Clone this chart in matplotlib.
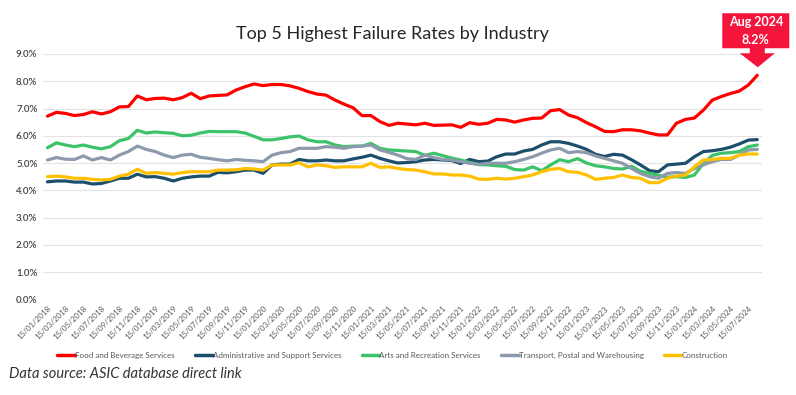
import numpy as np
import matplotlib
matplotlib.use("Agg")
import matplotlib.pyplot as plt
from matplotlib.patches import Polygon

plt.rcParams['font.family'] = ['Lato', 'DejaVu Sans']

# monthly dates Jan 2018 .. Aug 2024
months = [f"15/{m:02d}/{y}" for y in range(2018, 2025) for m in range(1, 13)][:80]

food = [6.72, 6.86, 6.82, 6.74, 6.78, 6.88, 6.80, 6.88, 7.06, 7.07,
        7.46, 7.32, 7.37, 7.38, 7.32, 7.40, 7.56, 7.36, 7.46, 7.48,
        7.50, 7.68, 7.80, 7.90, 7.84, 7.88, 7.88, 7.83, 7.74, 7.62,
        7.53, 7.49, 7.31, 7.16, 7.03, 6.74, 6.74, 6.52, 6.38, 6.46,
        6.43, 6.40, 6.46, 6.38, 6.39, 6.40, 6.31, 6.48, 6.42, 6.46,
        6.60, 6.58, 6.50, 6.58, 6.64, 6.65, 6.92, 6.96, 6.76, 6.66,
        6.48, 6.33, 6.16, 6.15, 6.22, 6.22, 6.18, 6.10, 6.03, 6.03,
        6.46, 6.60, 6.65, 6.94, 7.31, 7.44, 7.55, 7.64, 7.86, 8.22]

admin = [4.31, 4.34, 4.34, 4.30, 4.30, 4.23, 4.25, 4.34, 4.44, 4.44,
         4.59, 4.49, 4.50, 4.44, 4.34, 4.44, 4.49, 4.52, 4.52, 4.66,
         4.64, 4.68, 4.74, 4.74, 4.62, 4.93, 4.96, 4.96, 5.13, 5.08,
         5.08, 5.11, 5.08, 5.08, 5.15, 5.21, 5.29, 5.17, 5.08, 5.00,
         5.02, 5.05, 5.11, 5.13, 5.11, 5.09, 4.98, 5.13, 5.05, 5.07,
         5.23, 5.33, 5.33, 5.44, 5.50, 5.66, 5.78, 5.78, 5.72, 5.62,
         5.50, 5.32, 5.24, 5.32, 5.29, 5.12, 4.93, 4.72, 4.68, 4.93,
         4.96, 4.99, 5.23, 5.42, 5.45, 5.50, 5.58, 5.70, 5.84, 5.86]

arts = [5.56, 5.74, 5.66, 5.60, 5.66, 5.58, 5.52, 5.60, 5.82, 5.90,
        6.20, 6.10, 6.14, 6.11, 6.09, 6.00, 6.02, 6.10, 6.16, 6.15,
        6.15, 6.15, 6.10, 5.98, 5.85, 5.85, 5.90, 5.96, 5.99, 5.85,
        5.78, 5.78, 5.66, 5.60, 5.62, 5.62, 5.72, 5.54, 5.48, 5.46,
        5.44, 5.42, 5.28, 5.36, 5.27, 5.18, 5.11, 5.02, 4.94, 4.93,
        4.90, 4.88, 4.76, 4.74, 4.86, 4.72, 4.93, 5.12, 5.05, 5.16,
        5.00, 4.90, 4.86, 4.80, 4.78, 4.88, 4.70, 4.62, 4.55, 4.48,
        4.50, 4.47, 4.56, 4.98, 5.28, 5.36, 5.38, 5.42, 5.60, 5.66]

transport = [5.11, 5.20, 5.14, 5.13, 5.26, 5.11, 5.20, 5.11, 5.29, 5.42,
             5.62, 5.50, 5.42, 5.29, 5.20, 5.29, 5.32, 5.21, 5.17, 5.12,
             5.08, 5.13, 5.10, 5.08, 5.05, 5.29, 5.38, 5.42, 5.54, 5.54,
             5.54, 5.60, 5.58, 5.54, 5.60, 5.62, 5.66, 5.48, 5.39, 5.29,
             5.16, 5.13, 5.29, 5.20, 5.13, 5.11, 5.05, 4.99, 4.95, 4.99,
             4.99, 4.99, 5.05, 5.13, 5.23, 5.36, 5.48, 5.54, 5.38, 5.42,
             5.38, 5.26, 5.17, 5.08, 4.99, 4.80, 4.62, 4.50, 4.44, 4.62,
             4.65, 4.62, 4.80, 4.93, 5.05, 5.13, 5.13, 5.29, 5.48, 5.50]

construction = [4.50, 4.52, 4.49, 4.44, 4.44, 4.40, 4.38, 4.40, 4.52, 4.59,
                4.77, 4.62, 4.65, 4.62, 4.59, 4.65, 4.68, 4.68, 4.68, 4.74,
                4.74, 4.75, 4.80, 4.78, 4.74, 4.93, 4.93, 4.93, 5.01, 4.86,
                4.93, 4.90, 4.84, 4.86, 4.86, 4.86, 4.99, 4.84, 4.86, 4.80,
                4.76, 4.74, 4.68, 4.60, 4.60, 4.56, 4.56, 4.52, 4.41, 4.40,
                4.44, 4.41, 4.44, 4.50, 4.56, 4.68, 4.77, 4.80, 4.68, 4.66,
                4.56, 4.40, 4.44, 4.47, 4.56, 4.47, 4.44, 4.28, 4.28, 4.44,
                4.52, 4.56, 4.86, 5.11, 5.13, 5.17, 5.17, 5.29, 5.33, 5.33]

series = [
    ("Food and Beverage Services", food, "#ff0000"),
    ("Administrative and Support Services", admin, "#1b4f6b"),
    ("Arts and Recreation Services", arts, "#3cc36a"),
    ("Transport, Postal and Warehousing", transport, "#8c9aab"),
    ("Construction", construction, "#ffc000"),
]

fig = plt.figure(figsize=(7.96, 3.95), dpi=100)
ax = fig.add_axes([0.054, 0.2423, 0.903, 0.621])

x = np.arange(len(months))
for name, vals, col in series:
    ax.plot(x, vals, color=col, lw=2.3, label=name, solid_capstyle='round')

ax.set_xlim(-0.5, len(months) - 0.5)
ax.set_ylim(0, 9)
ax.set_yticks(np.arange(0, 10, 1))
ax.set_yticklabels([f"{v:.1f}%" for v in range(10)], fontsize=7, color="#404040",
                   fontweight='semibold')
ax.set_xticks(x[::2])
ax.set_xticklabels(months[::2], rotation=45, ha='right', va='top',
                   rotation_mode='anchor', fontsize=5.8, color="#595959")
ax.tick_params(length=0, pad=4)
ax.grid(axis='y', color="#e3e3e3", lw=0.8)
ax.set_axisbelow(True)
for s in ax.spines.values():
    s.set_visible(False)

fig.text(0.493, 0.915, "Top 5 Highest Failure Rates by Industry", ha='center',
         va='center', fontsize=13, color="#262626")

leg = fig.legend(loc='center', bbox_to_anchor=(0.493, 0.101), ncol=5, frameon=False,
                 fontsize=5.8, handlelength=2.2, handletextpad=0.0,
                 columnspacing=2.5, labelcolor="#595959")
for h in leg.get_lines():
    h.set_linewidth(2.5)

fig.text(0.011, 0.035, "Data source: ASIC database direct link", fontsize=10.5,
         style='italic', color="#333333", ha='left', va='bottom')

# callout over the last point
fig.canvas.draw()
px, py = ax.transData.transform((x[-1], food[-1]))
shape = [(-35, 62), (32, 62), (32, 27), (7.5, 27), (7.5, 22), (17.5, 22),
         (0.5, 8), (-17.5, 22), (-7.5, 22), (-7.5, 27), (-35, 27)]
poly = Polygon([(px + dx, py + dy) for dx, dy in shape], closed=True,
               facecolor="#f5143c", edgecolor='none', transform=None)
fig.patches.append(poly)
cx = px - 1.5
fig.text(cx / fig.bbox.width, (py + 53) / fig.bbox.height,
         "Aug 2024", ha='center', va='center', color='white',
         fontsize=9, fontweight='bold')
fig.text(cx / fig.bbox.width, (py + 35) / fig.bbox.height,
         f"{food[-1]:.1f}%", ha='center', va='center', color='white',
         fontsize=9, fontweight='bold')

fig.savefig("out.png", dpi=100)
